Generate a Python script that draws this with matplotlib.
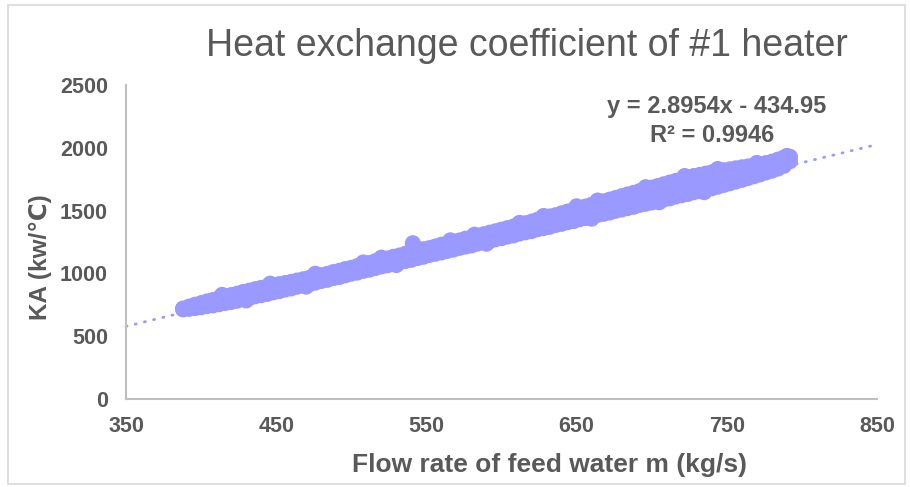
import matplotlib
matplotlib.use("Agg")
import matplotlib.pyplot as plt
from matplotlib.patches import Rectangle

# ---- data ----
flow = [388, 392, 396, 400, 404, 408, 412, 416, 420, 424, 428, 432, 436, 440,
        444, 448, 452, 456, 460, 464, 468, 472, 476, 480, 484, 488, 492, 496,
        500, 504, 508, 512, 516, 520, 524, 528, 532, 536, 540, 544, 548, 552,
        556, 560, 564, 568, 572, 576, 580, 584, 588, 592, 596, 600, 604, 608,
        612, 616, 620, 624, 628, 632, 636, 640, 644, 648, 652, 656, 660, 664,
        668, 672, 676, 680, 684, 688, 692, 696, 700, 704, 708, 712, 716, 720,
        724, 728, 732, 736, 740, 744, 748, 752, 756, 760, 764, 768, 772, 776,
        780, 784, 788, 792]
ka_low = [714, 718, 724, 731, 740, 746, 755, 765, 773, 783, 796, 804, 818, 827,
          837, 850, 859, 872, 881, 895, 905, 914, 927, 940, 949, 963, 972, 985,
          999, 1007, 1021, 1030, 1043, 1056, 1065, 1075, 1089, 1099, 1109, 1123, 1133, 1147,
          1157, 1167, 1180, 1190, 1204, 1214, 1223, 1238, 1248, 1257, 1272, 1281, 1294, 1303,
          1318, 1328, 1337, 1352, 1361, 1371, 1386, 1395, 1408, 1417, 1432, 1441, 1451, 1466,
          1475, 1485, 1499, 1509, 1521, 1531, 1546, 1555, 1565, 1579, 1589, 1598, 1613, 1623,
          1633, 1647, 1655, 1669, 1678, 1691, 1705, 1718, 1732, 1745, 1759, 1774, 1788, 1804,
          1818, 1835, 1857, 1893]
ka_high = [720, 735, 750, 763, 777, 788, 803, 814, 827, 838, 852, 862, 874, 884,
           895, 904, 914, 923, 933, 943, 953, 964, 977, 985, 996, 1010, 1020, 1034,
           1044, 1058, 1072, 1082, 1097, 1107, 1118, 1132, 1142, 1156, 1167, 1176, 1192, 1201,
           1214, 1228, 1238, 1252, 1262, 1276, 1286, 1300, 1311, 1324, 1335, 1348, 1360, 1373,
           1384, 1399, 1412, 1427, 1437, 1453, 1463, 1478, 1492, 1505, 1519, 1532, 1546, 1560,
           1573, 1587, 1600, 1614, 1628, 1641, 1655, 1668, 1682, 1695, 1709, 1723, 1736, 1750,
           1761, 1775, 1784, 1794, 1804, 1813, 1821, 1828, 1836, 1844, 1851, 1859, 1868, 1878,
           1889, 1905, 1922, 1928]
flow_mid = [680, 688, 696, 704, 712, 720, 728, 736, 744, 752, 760]
ka_mid = [1562, 1586, 1612, 1637, 1661, 1687, 1711, 1732, 1752, 1773, 1795]
flow_top = [414, 446, 476, 508, 520, 566, 582, 612, 628, 650, 664, 696, 722, 744, 770, 790]
ka_top = [829, 918, 997, 1087, 1125, 1263, 1308, 1402, 1457, 1534, 1580, 1686, 1775, 1831,
          1879, 1935]
flow_bottom = [430, 470, 530, 590, 660, 705, 735]
ka_bottom = [785, 895, 1067, 1237, 1436, 1567, 1647]
flow_outlier = [541]
ka_outlier = [1240]

trend_slope = 2.8954
trend_intercept = -434.95
equation_text = "y = 2.8954x - 434.95"
r2_text = "R² = 0.9946"

x_ticks = [350, 450, 550, 650, 750, 850]
y_ticks = [0, 500, 1000, 1500, 2000, 2500]

title = "Heat exchange coefficient of #1 heater"
x_label = "Flow rate of feed water m (kg/s)"
y_label = "KA (kw/℃)"

# ---- styling ----
W, H = 910, 487
FONT = ["Liberation Sans", "DejaVu Sans"]
TXT = "#595959"
PT = "#9999FF"

plt.rcParams["font.family"] = FONT

fig = plt.figure(figsize=(W / 100, H / 100), dpi=100)
fig.patch.set_facecolor("white")

# outer frame
fig.patches.append(Rectangle((8 / W, 3 / H), (905 - 8) / W, (484 - 5) / H,
                             transform=fig.transFigure, fill=False,
                             edgecolor="#D9D9D9", lw=1.2))

ax = fig.add_axes([126 / W, (H - 399) / H, (877 - 126) / W, (399 - 85) / H])

x_all = flow + flow + flow_mid + flow_top + flow_bottom + flow_outlier
y_all = ka_low + ka_high + ka_mid + ka_top + ka_bottom + ka_outlier
ax.scatter(x_all, y_all, s=135, color=PT, edgecolors="none", zorder=3)

xl = [x_ticks[0], x_ticks[-1]]
yl = [trend_slope * v + trend_intercept for v in xl]
ax.plot(xl, yl, color=PT, lw=2.0, linestyle=(0, (0.4, 3.0)),
        dash_capstyle="round", zorder=2, clip_on=False)

ax.set_xlim(x_ticks[0], x_ticks[-1])
ax.set_ylim(y_ticks[0], y_ticks[-1])
ax.set_xticks(x_ticks)
ax.set_yticks(y_ticks)
ax.tick_params(length=0, labelsize=15.5, labelcolor=TXT)
ax.tick_params(axis="y", pad=13)
ax.tick_params(axis="x", pad=12)
for lab in ax.get_xticklabels() + ax.get_yticklabels():
    lab.set_fontweight("bold")

for s in ["top", "right"]:
    ax.spines[s].set_visible(False)
for s in ["left", "bottom"]:
    ax.spines[s].set_color("#BFBFBF")
    ax.spines[s].set_linewidth(1.5)

fig.text(527 / W, 1 - 46 / H, title, ha="center", va="center",
         fontsize=27, color=TXT)
fig.text(550 / W, 1 - 465 / H, x_label, ha="center", va="center",
         fontsize=19, fontweight="bold", color=TXT)
fig.text(40 / W, 1 - 257 / H, y_label, ha="center", va="center",
         rotation=90, fontsize=17.5, fontweight="bold", color=TXT)
fig.text(717 / W, 1 - 107 / H, equation_text, ha="center", va="center",
         fontsize=17, fontweight="bold", color=TXT)
fig.text(712 / W, 1 - 135 / H, r2_text, ha="center", va="center",
         fontsize=17, fontweight="bold", color=TXT)

fig.savefig("out.png", dpi=100, facecolor="white")
